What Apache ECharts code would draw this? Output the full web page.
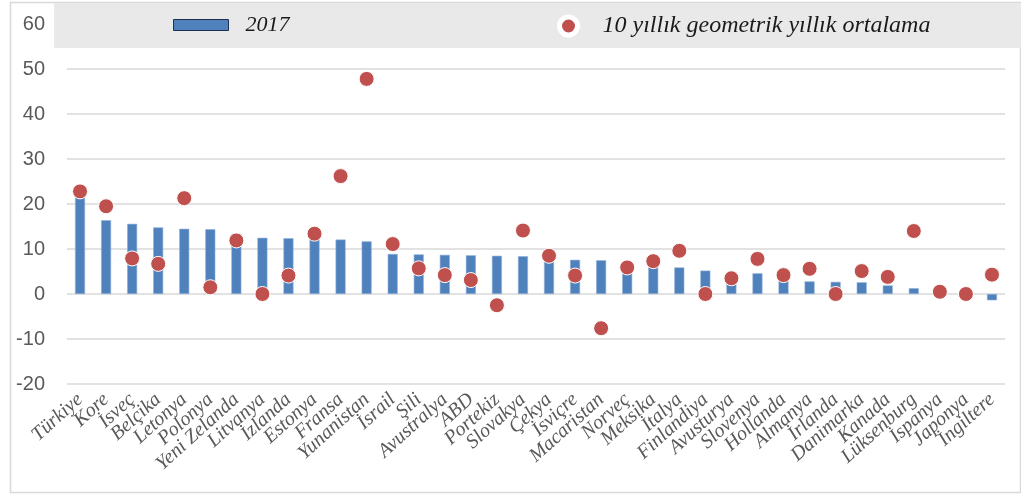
<!DOCTYPE html>
<html>
<head>
<meta charset="utf-8">
<script src="https://cdn.jsdelivr.net/npm/echarts@6/dist/echarts.min.js"></script>
<style>
  html, body { margin: 0; padding: 0; background: #fff; }
  #chart { width: 1021px; height: 494px; }
</style>
</head>
<body>
<div id="chart"></div>
<script>
// Countries, ordered by the 2017 value
const countries = ['Türkiye', 'Kore', 'İsveç', 'Belçika', 'Letonya', 'Polonya', 'Yeni Zelanda', 'Litvanya',
  'İzlanda', 'Estonya', 'Fransa', 'Yunanistan', 'İsrail', 'Şili', 'Avustralya', 'ABD', 'Portekiz',
  'Slovakya', 'Çekya', 'İsviçre', 'Macaristan', 'Norveç', 'Meksika', 'İtalya', 'Finlandiya',
  'Avusturya', 'Slovenya', 'Hollanda', 'Almanya', 'İrlanda', 'Danimarka', 'Kanada', 'Lüksenburg',
  'İspanya', 'Japonya', 'İngiltere'];

// 2017 values (bars)
const values2017 = [22.0, 16.4, 15.6, 14.8, 14.5, 14.4, 13.4, 12.5, 12.4, 13.0, 12.1, 11.7, 8.9,
  8.8, 8.7, 8.6, 8.5, 8.4, 8.3, 7.6, 7.5, 5.6, 6.5, 5.9, 5.2, 3.2, 4.6, 3.8, 2.8, 2.7, 2.6, 1.9, 1.3,
  0.3, 0.2, -1.4];

// 10-year geometric annual average (dots)
const avg10y = [22.8, 19.5, 7.9, 6.7, 21.3, 1.5, 11.9, 0.0, 4.1, 13.4, 26.2, 47.8, 11.1,
  5.7, 4.2, 3.1, -2.5, 14.1, 8.5, 4.1, -7.6, 5.9, 7.3, 9.6, 0.0, 3.5, 7.8, 4.2, 5.6, 0.0, 5.1, 3.8,
  14.0, 0.5, 0.0, 4.3];

const seriesBar = '2017';
const seriesDot = '10 yıllık geometrik yıllık ortalama';

const chart = echarts.init(document.getElementById('chart'));

chart.setOption({
  animation: false,
  backgroundColor: '#ffffff',
  graphic: [
    {
      type: 'rect', left: 8, top: 0, z: 0, silent: true,
      shape: { width: 1010, height: 490 },
      style: { fill: 'none', stroke: '#D9D9D9', lineWidth: 1.5 }
    },
    {
      type: 'rect', left: 54, top: 3, z: 50, silent: true,
      shape: { width: 967, height: 45 },
      style: { fill: '#E9E9E9' }
    }
  ],
  legend: [
    {
      data: [{ name: seriesBar, itemStyle: { color: '#4F81BD', borderColor: '#1F2F4F', borderWidth: 1 } }],
      left: 173, top: 14, z: 60, padding: 0,
      icon: 'rect', itemWidth: 55, itemHeight: 11,
      textStyle: { fontFamily: 'Liberation Serif', fontStyle: 'italic', fontSize: 22, color: '#1a1a1a', padding: [0, 0, 0, 12] }
    },
    {
      data: [{ name: seriesDot, itemStyle: { color: '#C0504D', borderColor: '#ffffff', borderWidth: 5 } }],
      left: 557, top: 14, z: 60, padding: 0,
      icon: 'circle', itemWidth: 18, itemHeight: 18,
      textStyle: { fontFamily: 'Liberation Serif', fontStyle: 'italic', fontSize: 24, color: '#1a1a1a', padding: [10, 0, 0, 20] }
    }
  ],
  grid: { left: 67, right: 16, top: 24, bottom: 110 },
  xAxis: {
    type: 'category',
    data: countries,
    axisLine: { show: false, onZero: false },
    axisTick: { show: false },
    axisLabel: {
      interval: 0,
      rotate: 42,
      margin: 13,
      fontFamily: 'Liberation Serif',
      fontStyle: 'italic',
      fontSize: 20,
      color: '#595959'
    }
  },
  yAxis: {
    type: 'value',
    min: -20, max: 60, interval: 10,
    axisLine: { show: false },
    axisTick: { show: false },
    axisLabel: { fontFamily: 'Liberation Sans', fontSize: 20, color: '#595959', margin: 22 },
    splitLine: { lineStyle: { color: '#D9D9D9', width: 1.5 } }
  },
  series: [
    {
      name: seriesBar,
      type: 'bar',
      data: values2017,
      barWidth: 10,
      itemStyle: { color: '#4F81BD', borderColor: '#8FB0D8', borderWidth: 0.6 },
      z: 2
    },
    {
      name: seriesDot,
      type: 'scatter',
      data: avg10y,
      symbol: 'circle',
      symbolSize: 15,
      itemStyle: { color: '#C0504D', borderColor: '#ffffff', borderWidth: 1, opacity: 1 },
      z: 3
    }
  ]
});
</script>
</body>
</html>
